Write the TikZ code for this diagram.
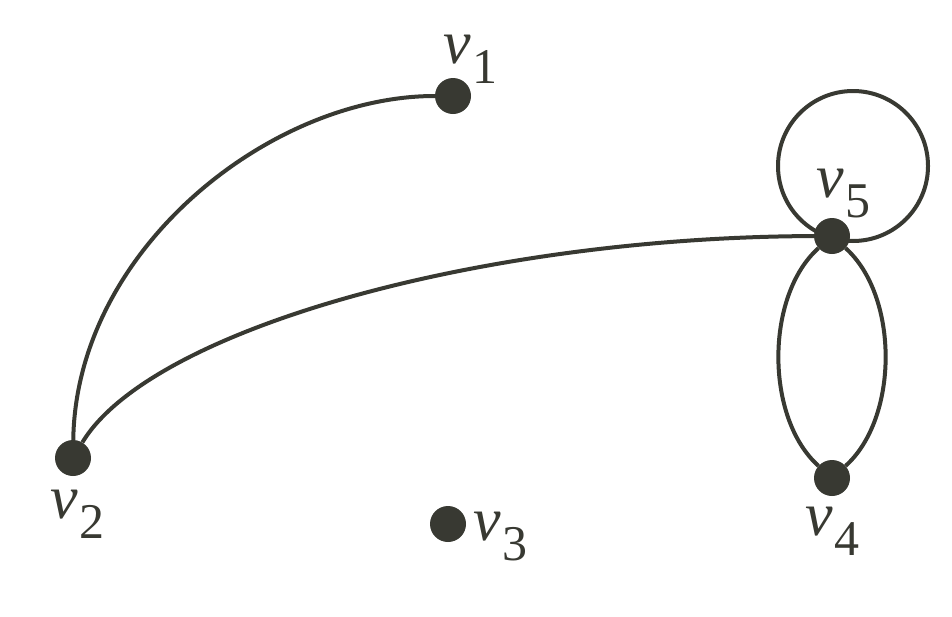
\documentclass[tikz,border=0pt]{standalone}
\usepackage{fontspec}
\setmainfont{Liberation Serif}
\definecolor{ink}{RGB}{56,57,50}
\newcommand\vlab[1]{{\itshape v}\kern2pt\raisebox{-20pt}{\fontsize{50}{50}\selectfont #1}}
\begin{document}
\begin{tikzpicture}[x=1pt,y=-1pt,
  vdot/.style={circle,fill=ink,draw=none,minimum size=36pt,inner sep=0pt},
  vtext/.style={anchor=base west,inner sep=0pt,text=ink,font=\fontsize{62}{62}\selectfont},
  edge/.style={draw=ink,line width=4pt}]
\useasboundingbox (0,0) rectangle (952,616);
\node[vdot] (v1) at (453,96) {};
\node[vdot] (v2) at (73,458) {};
\node[vdot] (v3) at (448,524) {};
\node[vdot] (v4) at (832,478) {};
\node[vdot] (v5) at (832,236) {};
\node[vtext] (l1) at (443,63) {\vlab{1}};
\node[vtext] (l2) at (50,518) {\vlab{2}};
\node[vtext] (l3) at (473,540) {\vlab{3}};
\node[vtext] (l4) at (805,535) {\vlab{4}};
\node[vtext] (l5) at (816,197) {\vlab{5}};
\draw[edge] (v1) .. controls (270,96) and (76,250) .. (v2);
\draw[edge] (v2) .. controls (150,330) and (480,237) .. (v5);
\draw[edge] (v5) .. controls +(67,60) and +(67,-60) .. (v4);
\draw[edge] (v5) .. controls +(-67,60) and +(-67,-60) .. (v4);
\draw[edge] (v5) ++(21,-70) circle[radius=75pt];
\end{tikzpicture}
\end{document}
